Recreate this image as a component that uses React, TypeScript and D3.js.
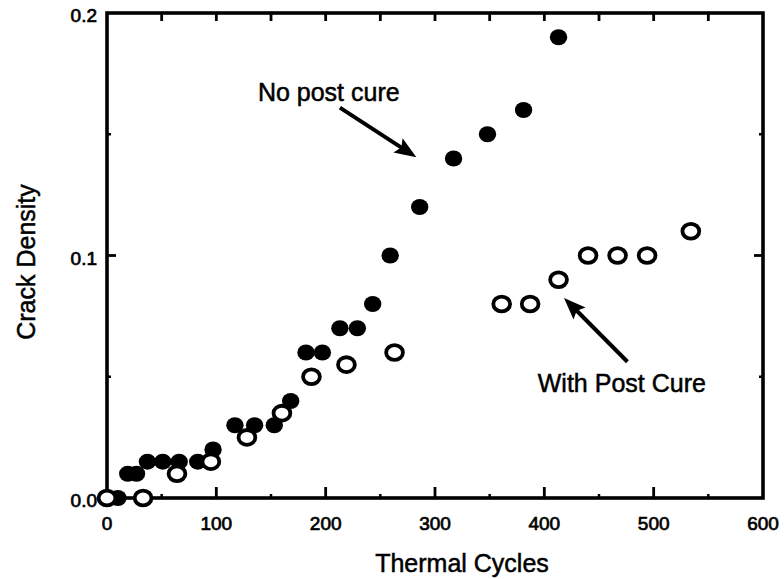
import React from "react";
import * as d3 from "d3";

const noPostCureX = [10, 19, 27, 37, 51, 66, 83, 97, 117, 135, 153, 168, 182, 197, 213, 229, 243, 259, 286, 317, 348, 381, 413];
const noPostCureY = [0, 0.01, 0.01, 0.015, 0.015, 0.015, 0.015, 0.02, 0.03, 0.03, 0.03, 0.04, 0.06, 0.06, 0.07, 0.07, 0.08, 0.1, 0.12, 0.14, 0.15, 0.16, 0.19];

const withPostCureX = [0, 33, 64, 95, 128, 160, 187, 219, 263, 361, 387, 413, 440, 467, 494, 534];
const withPostCureY = [0, 0, 0.01, 0.015, 0.025, 0.035, 0.05, 0.055, 0.06, 0.08, 0.08, 0.09, 0.1, 0.1, 0.1, 0.11];

const xTickLabels = [0, 100, 200, 300, 400, 500, 600];
const yTickLabels = [0, 0.1, 0.2];
const xMajorTicks = [100, 200, 300, 400, 500];
const xMinorTicks = [50, 150, 250, 350, 450, 550];
const xTopTicks = [50, 100, 150, 200, 250, 300, 350, 400, 450, 500, 550];
const yMajorTicks = [0.1];
const yMinorTicks = [0.05, 0.15];

const xTitle = "Thermal Cycles";
const yTitle = "Crack Density";
const noteNoCure = { text: "No post cure", tx: 138, ty: 0.1636, ax0: 213, ay0: 0.161, ax1: 283, ay1: 0.1405 };
const noteCure = { text: "With Post Cure", tx: 394, ty: 0.0438, ax0: 476, ay0: 0.0562, ax1: 418, ay1: 0.0825 };

const W = 784;
const H = 579;
const FONT = "'Liberation Sans', Arial, Helvetica, sans-serif";

function Arrow({ x0, y0, x1, y1 }: { x0: number; y0: number; x1: number; y1: number }) {
  const ang = Math.atan2(y1 - y0, x1 - x0);
  const hl = 22;
  const hw = 8.5;
  const bx = x1 - hl * Math.cos(ang);
  const by = y1 - hl * Math.sin(ang);
  const px = -Math.sin(ang);
  const py = Math.cos(ang);
  const pts = [
    [x1, y1],
    [bx + px * hw, by + py * hw],
    [bx + 4 * Math.cos(ang), by + 4 * Math.sin(ang)],
    [bx - px * hw, by - py * hw],
  ];
  return (
    <g>
      <line x1={x0} y1={y0} x2={bx + 6 * Math.cos(ang)} y2={by + 6 * Math.sin(ang)} stroke="#000" strokeWidth={4} />
      <polygon points={pts.map((p) => p.join(",")).join(" ")} fill="#000" />
    </g>
  );
}

export default function App() {
  const x = d3.scaleLinear().domain([0, 600]).range([107, 763]);
  const y = d3.scaleLinear().domain([0, 0.2]).range([498, 13]);
  const [x0, x1] = x.range();
  const [y0, y1] = y.range();

  const filled = noPostCureX.map((v, i) => ({ x: v, y: noPostCureY[i] }));
  const open = withPostCureX.map((v, i) => ({ x: v, y: withPostCureY[i] }));

  const txt = { fontFamily: FONT, fill: "#000", stroke: "#000", strokeWidth: 0.5 } as const;
  const tick = { fontFamily: FONT, fill: "#000", stroke: "#000", strokeWidth: 0.7 } as const;

  return (
    <svg width={W} height={H} style={{ position: "absolute", left: 0, top: 0, background: "#fff" }}>
      <rect x={0} y={0} width={W} height={H} fill="#fff" />
      {/* frame */}
      <rect x={x0} y={y1} width={x1 - x0} height={y0 - y1} fill="none" stroke="#000" strokeWidth={3.6} />
      {/* ticks */}
      {xMajorTicks.map((t) => (
        <line key={"xb" + t} x1={x(t)} x2={x(t)} y1={y0} y2={y0 - 11} stroke="#000" strokeWidth={2.8} />
      ))}
      {xMinorTicks.map((t) => (
        <line key={"xm" + t} x1={x(t)} x2={x(t)} y1={y0} y2={y0 - 4} stroke="#000" strokeWidth={2.5} />
      ))}
      {xTopTicks.map((t) => (
        <line key={"xt" + t} x1={x(t)} x2={x(t)} y1={y1} y2={y1 + 8} stroke="#000" strokeWidth={2.8} />
      ))}
      {yMajorTicks.map((t) => (
        <g key={"ym" + t}>
          <line x1={x0} x2={x0 + 9} y1={y(t)} y2={y(t)} stroke="#000" strokeWidth={2.8} />
          <line x1={x1} x2={x1 - 9} y1={y(t)} y2={y(t)} stroke="#000" strokeWidth={2.8} />
        </g>
      ))}
      {yMinorTicks.map((t) => (
        <g key={"yn" + t}>
          <line x1={x0} x2={x0 + 4} y1={y(t)} y2={y(t)} stroke="#000" strokeWidth={2.5} />
          <line x1={x1} x2={x1 - 4} y1={y(t)} y2={y(t)} stroke="#000" strokeWidth={2.5} />
        </g>
      ))}
      {/* tick labels */}
      {xTickLabels.map((t) => (
        <text key={"xl" + t} x={x(t)} y={530} textAnchor="middle" fontSize={19} {...tick}>
          {t}
        </text>
      ))}
      {yTickLabels.map((t) => (
        <text key={"yl" + t} x={97} y={y(t) + 9} textAnchor="end" fontSize={19} {...tick}>
          {t.toFixed(1)}
        </text>
      ))}
      {/* axis titles */}
      <text x={462} y={572} textAnchor="middle" fontSize={25} {...txt}>
        {xTitle}
      </text>
      <text transform={`translate(35,262) rotate(-90)`} textAnchor="middle" fontSize={25} {...txt}>
        {yTitle}
      </text>
      {/* data */}
      {filled.map((d, i) => (
        <ellipse key={"f" + i} cx={x(d.x)} cy={y(d.y)} rx={8.7} ry={8} fill="#000" />
      ))}
      {open.map((d, i) => (
        <ellipse key={"o" + i} cx={x(d.x)} cy={y(d.y)} rx={8.4} ry={7.4} fill="#fff" stroke="#000" strokeWidth={3.8} />
      ))}
      {/* annotations */}
      <text x={x(noteNoCure.tx)} y={y(noteNoCure.ty)} fontSize={25} {...txt}>
        {noteNoCure.text}
      </text>
      <Arrow x0={x(noteNoCure.ax0)} y0={y(noteNoCure.ay0)} x1={x(noteNoCure.ax1)} y1={y(noteNoCure.ay1)} />
      <text x={x(noteCure.tx)} y={y(noteCure.ty)} fontSize={25} {...txt}>
        {noteCure.text}
      </text>
      <Arrow x0={x(noteCure.ax0)} y0={y(noteCure.ay0)} x1={x(noteCure.ax1)} y1={y(noteCure.ay1)} />
    </svg>
  );
}
